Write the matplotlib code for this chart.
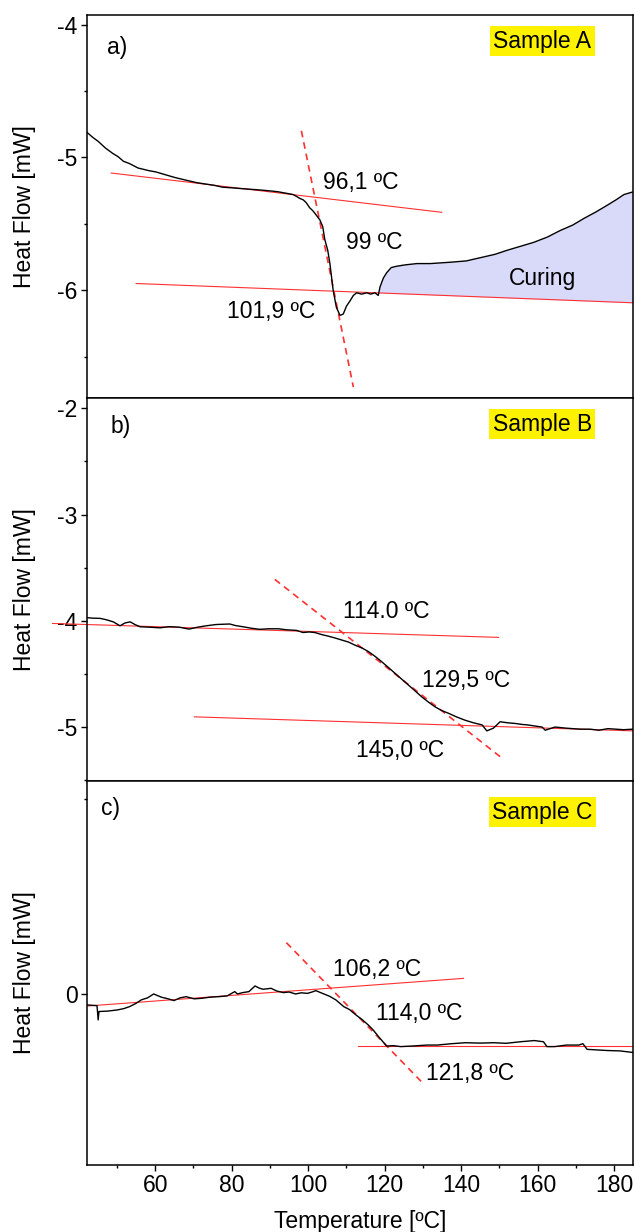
import numpy as np
import matplotlib
matplotlib.use("Agg")
import matplotlib.pyplot as plt
from matplotlib.ticker import MultipleLocator

plt.rcParams['font.family'] = ['Liberation Sans', 'DejaVu Sans']
plt.rcParams['font.size'] = 16.5
plt.rcParams['axes.unicode_minus'] = False

# ---- sample A ----
temp_a = [32.8, 34.5, 36.0, 38.0, 40.0, 41.5, 43.0, 44.5, 45.6, 47.0, 48.5, 50.0, 52.0, 54.5,
          57.0, 60.0, 63.2, 65.5, 68.0, 70.5, 73.3, 75.5, 78.0, 80.5, 82.6, 84.5, 86.0, 88.0,
          90.0, 91.0, 91.9, 92.8, 93.6, 94.6, 95.4, 96.0, 97.4, 98.2, 98.8, 99.6, 100.2, 101.1,
          102.0, 103.0, 103.9, 104.8, 105.8, 106.7, 107.6, 109.0, 110.4, 111.5, 112.7, 113.6,
          114.1, 115.0, 115.9, 117.2, 118.7, 121.0, 124.3, 128.0, 133.5, 138.0, 142.8, 146.0,
          149.3, 153.0, 156.7, 160.5, 164.1, 167.5, 170.6, 174.0, 177.1, 179.5, 181.7, 184.2]
flow_a = [-4.81, -4.85, -4.88, -4.93, -4.97, -4.995, -5.03, -5.045, -5.06, -5.08, -5.09, -5.10,
          -5.11, -5.13, -5.15, -5.17, -5.19, -5.20, -5.21, -5.225, -5.23, -5.235, -5.24, -5.245,
          -5.25, -5.255, -5.26, -5.27, -5.28, -5.295, -5.31, -5.32, -5.34, -5.38, -5.40, -5.42,
          -5.47, -5.52, -5.62, -5.70, -5.80, -6.00, -6.13, -6.19, -6.18, -6.12, -6.08, -6.04,
          -6.02, -6.03, -6.02, -6.03, -6.02, -6.04, -5.975, -5.91, -5.87, -5.83, -5.82, -5.81,
          -5.80, -5.80, -5.79, -5.78, -5.75, -5.73, -5.70, -5.67, -5.64, -5.60, -5.55, -5.51,
          -5.46, -5.41, -5.36, -5.32, -5.28, -5.26]
base_a_up_t = [39.6, 131.2]
base_a_up_f = [-5.118, -5.414]
base_a_lo_t = [46.5, 184.9]
base_a_lo_f = [-5.95, -6.096]
tang_a_t = [92.3, 106.7]
tang_a_f = [-4.80, -6.73]

# ---- sample B ----
temp_b = [50.0, 51.5, 53.4, 55.0, 56.8, 58.5, 59.8, 61.1, 62.3, 63.6, 66.0, 68.7, 71.0, 73.6,
          76.1, 78.3, 80.5, 83.0, 86.5, 88.0, 89.9, 92.0, 94.1, 96.5, 99.0, 101.0, 103.5, 105.2,
          106.8, 108.2, 110.0, 111.6, 113.2, 115.0, 116.8, 118.5, 120.2, 121.9, 123.6, 125.3,
          127.0, 128.7, 130.4, 132.1, 133.8, 135.5, 137.2, 138.9, 140.6, 142.3, 144.4, 146.5,
          148.7, 150.9, 152.1, 153.8, 155.5, 157.4, 159.3, 161.0, 162.5, 164.3, 166.2, 167.0,
          169.5, 172.2, 174.0, 176.0, 178.5, 180.7, 183.0, 185.0, 187.0, 189.4]
flow_b = [-3.97, -3.975, -3.977, -3.99, -4.01, -4.047, -4.02, -4.01, -4.035, -4.056, -4.06,
          -4.066, -4.055, -4.06, -4.078, -4.06, -4.047, -4.035, -4.03, -4.045, -4.056, -4.07,
          -4.08, -4.075, -4.075, -4.085, -4.09, -4.11, -4.105, -4.11, -4.13, -4.144, -4.16,
          -4.18, -4.2, -4.23, -4.255, -4.29, -4.335, -4.386, -4.44, -4.495, -4.55, -4.605,
          -4.66, -4.716, -4.765, -4.81, -4.845, -4.87, -4.905, -4.935, -4.96, -4.98, -5.036,
          -5.01, -4.95, -4.96, -4.966, -4.975, -4.98, -4.99, -5.0, -5.03, -5.0, -5.01, -5.015,
          -5.02, -5.02, -5.03, -5.015, -5.02, -5.025, -5.02]
base_b_up_t = [41.3, 155.1]
base_b_up_f = [-4.025, -4.156]
base_b_lo_t = [77.5, 189.4]
base_b_lo_f = [-4.904, -5.036]
tang_b_t = [98.0, 156.4]
tang_b_f = [-3.61, -5.305]

# ---- sample C ----
temp_c = [42.1, 44.8, 45.1, 45.3, 47.5, 50.1, 51.8, 53.3, 55.0, 56.4, 58.0, 59.6, 61.7, 63.2,
          64.9, 66.5, 68.1, 70.2, 72.3, 74.5, 76.5, 78.8, 80.8, 81.5, 82.9, 84.5, 86.1, 87.2,
          88.2, 90.3, 91.8, 93.5, 95.0, 96.7, 98.2, 99.8, 101.0, 102.0, 104.1, 105.6, 107.2,
          109.3, 110.8, 112.5, 114.0, 115.7, 117.0, 118.4, 120.5, 122.3, 124.2, 128.0, 131.0,
          133.7, 137.5, 141.1, 145.0, 148.5, 151.7, 155.5, 159.1, 161.5, 162.4, 164.4, 167.5,
          170.7, 171.8, 172.9, 175.5, 178.2, 181.5, 184.9]
flow_c = [-0.056, -0.06, -0.133, -0.09, -0.088, -0.082, -0.075, -0.065, -0.048, -0.03, -0.02,
          0.0, -0.017, -0.024, -0.034, -0.02, -0.014, -0.025, -0.022, -0.016, -0.014, -0.01,
          0.012, 0.0, 0.007, 0.012, 0.041, 0.03, 0.024, 0.029, 0.015, 0.007, 0.01, 0.0, 0.006,
          0.003, 0.01, 0.017, 0.0, -0.012, -0.03, -0.065, -0.08, -0.108, -0.13, -0.159, -0.185,
          -0.219, -0.267, -0.265, -0.27, -0.266, -0.262, -0.262, -0.255, -0.25, -0.252, -0.25,
          -0.253, -0.245, -0.239, -0.245, -0.27, -0.27, -0.262, -0.262, -0.255, -0.284, -0.287,
          -0.29, -0.292, -0.30]
base_c_up_t = [42.1, 140.6]
base_c_up_f = [-0.062, 0.08]
base_c_lo_t = [113.1, 184.9]
base_c_lo_f = [-0.268, -0.268]
tang_c_t = [94.3, 130.0]
tang_c_f = [0.263, -0.458]

W, H = 635, 1232
fig = plt.figure(figsize=(W / 100, H / 100), dpi=100)
left = 86.7 / W
width = (633 - 86.7) / W


def make_ax(top_px, bot_px):
    return fig.add_axes([left, 1 - bot_px / H, width, (bot_px - top_px) / H])


ax_a = make_ax(15, 397.7)
ax_b = make_ax(397.7, 780.7)
ax_c = make_ax(781, 1165)

red = '#ff3030'
for ax in (ax_a, ax_b, ax_c):
    for s in ax.spines.values():
        s.set_linewidth(1.1)
    ax.tick_params(which='major', direction='out', length=4.5, width=1.0, pad=2)
    ax.tick_params(which='minor', direction='out', length=2.2, width=1.0)
    ax.xaxis.set_major_locator(MultipleLocator(20))
    ax.xaxis.set_minor_locator(MultipleLocator(10))
    ax.set_ylabel('Heat Flow [mW]')
    ax.yaxis.set_label_coords(-0.092, 0.5)

# panel a
ax_a.plot(temp_a, flow_a, color='black', lw=1.0, zorder=3)
ax_a.plot(base_a_up_t, base_a_up_f, color=red, lw=0.8)
ax_a.plot(base_a_lo_t, base_a_lo_f, color=red, lw=0.8)
ax_a.plot(tang_a_t, tang_a_f, color=red, lw=1.2, ls=(0, (4, 3)))
ta = np.array(temp_a)
fa = np.array(flow_a)
base_line = np.interp(ta, base_a_lo_t, base_a_lo_f)
ax_a.fill_between(ta, fa, base_line, where=ta >= 113.6, color='#d9d9fa', lw=0, zorder=1)
ax_a.set_xlim(32.8, 184.2)
ax_a.set_ylim(-6.81, -3.928)
ax_a.yaxis.set_major_locator(MultipleLocator(1))
ax_a.yaxis.set_minor_locator(MultipleLocator(0.5))
ax_a.set_xticklabels([])
ax_a.text(98.3, -5.19, '96,1 ºC', ha='left', va='center')
ax_a.text(104.6, -5.64, '99 ºC', ha='left', va='center')
ax_a.text(71.8, -6.16, '101,9 ºC', ha='left', va='center')
ax_a.text(149.7, -5.91, 'Curing', ha='left', va='center')

# panel b
ax_b.plot(temp_b, flow_b, color='black', lw=1.0, zorder=3)
ax_b.plot(base_b_up_t, base_b_up_f, color=red, lw=0.8, clip_on=False)
ax_b.plot(base_b_lo_t, base_b_lo_f, color=red, lw=0.8)
ax_b.plot(tang_b_t, tang_b_f, color=red, lw=1.2, ls=(0, (4, 3)), clip_on=False)
ax_b.set_xlim(50, 189.4)
ax_b.set_ylim(-5.505, -1.9)
ax_b.yaxis.set_major_locator(MultipleLocator(1))
ax_b.yaxis.set_minor_locator(MultipleLocator(0.5))
ax_b.set_xticklabels([])
ax_b.text(115.5, -3.915, '114.0 ºC', ha='left', va='center')
ax_b.text(135.5, -4.565, '129,5 ºC', ha='left', va='center')
ax_b.text(118.6, -5.217, '145,0 ºC', ha='left', va='center')

# panel c
ax_c.plot(temp_c, flow_c, color='black', lw=1.0, zorder=3)
ax_c.plot(base_c_up_t, base_c_up_f, color=red, lw=0.8)
ax_c.plot(base_c_lo_t, base_c_lo_f, color=red, lw=0.8)
ax_c.plot(tang_c_t, tang_c_f, color=red, lw=1.2, ls=(0, (4, 3)))
ax_c.set_xlim(42.1, 184.9)
ax_c.set_ylim(-0.877, 1.092)
ax_c.yaxis.set_major_locator(MultipleLocator(2))
ax_c.yaxis.set_minor_locator(MultipleLocator(1))
ax_c.set_xlabel('Temperature [ºC]', labelpad=9)
ax_c.text(106.4, 0.127, '106,2 ºC', ha='left', va='center')
ax_c.text(117.6, -0.099, '114,0 ºC', ha='left', va='center')
ax_c.text(130.7, -0.407, '121,8 ºC', ha='left', va='center')

for ax, lab, lx, ly, sname, sy in ((ax_a, 'a)', 0.037, 0.916, 'Sample A', 0.932),
                                   (ax_b, 'b)', 0.043, 0.924, 'Sample B', 0.931),
                                   (ax_c, 'c)', 0.026, 0.929, 'Sample C', 0.919)):
    ax.text(lx, ly, lab, transform=ax.transAxes, ha='left', va='center')
    ax.text(0.834, sy, sname, transform=ax.transAxes, ha='center', va='center',
            bbox=dict(boxstyle='square,pad=0.15', facecolor='#fff200', edgecolor='none'))

fig.savefig('out.png', dpi=100)
